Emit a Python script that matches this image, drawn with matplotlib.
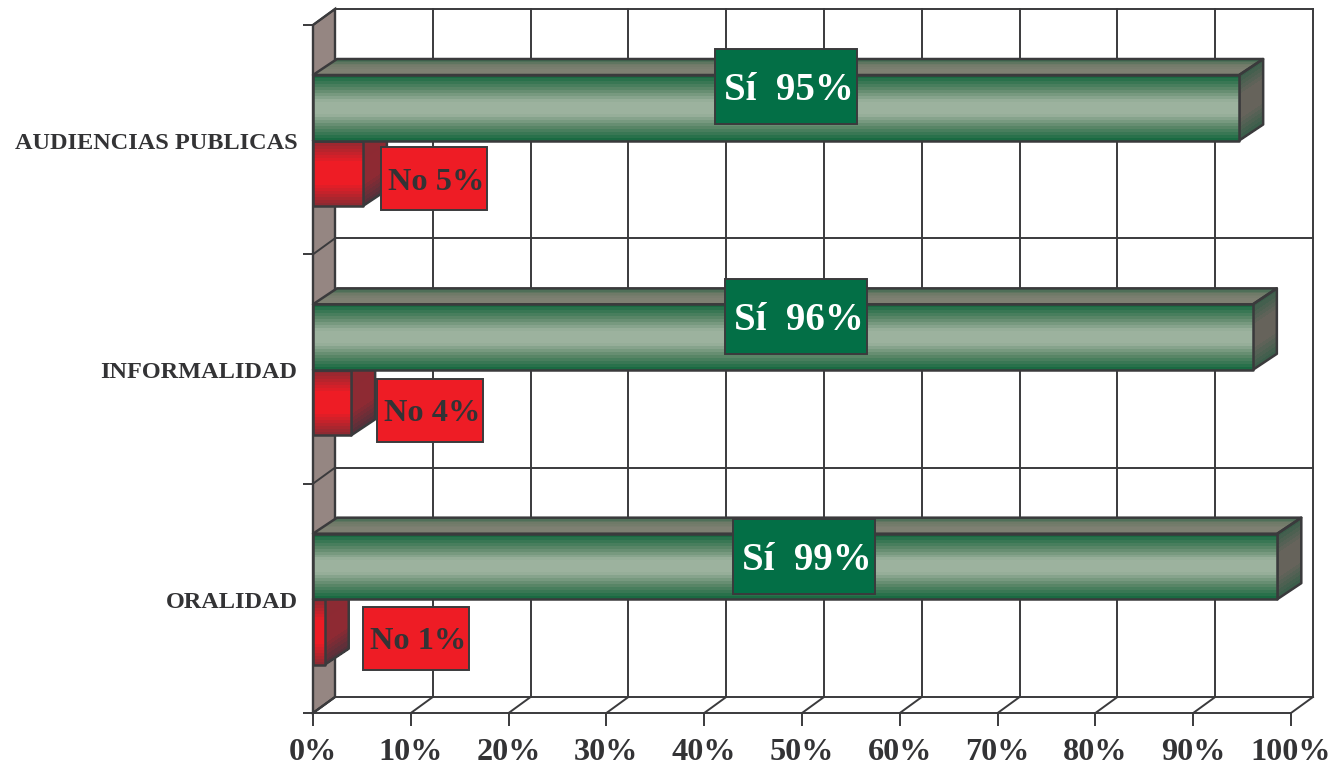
import numpy as np
import matplotlib
matplotlib.use("Agg")
import matplotlib.pyplot as plt
from matplotlib.colors import LinearSegmentedColormap
from matplotlib.patches import Polygon, Rectangle

categories = ["AUDIENCIAS PUBLICAS", "INFORMALIDAD", "ORALIDAD"]
si_values = [94.7, 96.1, 98.6]
no_values = [5.1, 3.9, 1.2]
si_labels = ["Sí  95%", "Sí  96%", "Sí  99%"]
no_labels = ["No 5%", "No 4%", "No 1%"]
x_ticks = list(range(0, 101, 10))
x_tick_labels = [f"{t}%" for t in x_ticks]

W, H = 1337, 770
L, R, T, B = 313, 1291, 25, 713
plt.rcParams["font.family"] = ["Liberation Serif", "DejaVu Serif"]
INK = "#3a3a3c"
TEXT = "#333335"

fig = plt.figure(figsize=(W / 100, H / 100), dpi=100, facecolor="white")
ax = fig.add_axes([L / W, 1 - B / H, (R - L) / W, (B - T) / H])
ax.set_xlim(0, 100)
ax.set_ylim(3, 0)
ax.patch.set_visible(False)

px_x = (R - L) / 100
px_y = (B - T) / 3
DX, DY = 22 / px_x, 16 / px_y
BAR_DX = 24 / px_x
BAR_H = 65.5 / px_y
GAP = 50 / px_y
X = lambda p: (p - L) / px_x
Y = lambda p: (p - T) / px_y

green_front = LinearSegmentedColormap.from_list("gf", ["#1a6a42", "#5b8668", "#9cb29e", "#9cb29e", "#5b8668", "#1a6a42"], 22)
green_top = LinearSegmentedColormap.from_list("gt", ["#3f6a50", "#6f7a68", "#7e8072", "#7e8072"], 10)
green_side = LinearSegmentedColormap.from_list("gs", ["#3c5e4b", "#66635b", "#66635b", "#3c5e4b"], 16)
red_front = LinearSegmentedColormap.from_list("rf", ["#8e2a32", "#ee1c25", "#ee1c25", "#8e2a32"], 22)
red_top = LinearSegmentedColormap.from_list("rt", ["#8e2a32", "#8e2a32"], 2)
red_side = LinearSegmentedColormap.from_list("rs", ["#8a2c33", "#8e2a33", "#8e2a33", "#57303a"], 16)


def face(p0, p1, p2, p3, cmap, z):
    """Banded quad: bands run from edge p0-p1 to edge p3-p2."""
    n = cmap.N
    t = np.linspace(0, 1, n + 1)[:, None]
    p0, p1, p2, p3 = map(np.array, (p0, p1, p2, p3))
    left = p0 + (p3 - p0) * t
    right = p1 + (p2 - p1) * t
    xs = np.column_stack([left[:, 0], right[:, 0]])
    ys = np.column_stack([left[:, 1], right[:, 1]])
    ax.pcolormesh(xs, ys, np.linspace(0, 1, n)[:, None], cmap=cmap, shading="flat",
                  zorder=z, clip_on=False, antialiased=False)
    ax.add_patch(Polygon([p0, p1, p2, p3], closed=True, fill=False, ec=INK, lw=1.8,
                         zorder=z + 0.1, clip_on=False, joinstyle="round"))


def bar(value, top, cm_front, cm_top, cm_side, z):
    bot = top + BAR_H
    face((BAR_DX, top - DY), (value + BAR_DX, top - DY), (value, top), (0, top), cm_top, z)
    face((value, top), (value + BAR_DX, top - DY), (value + BAR_DX, bot - DY), (value, bot), cm_side, z)
    face((0, top), (value, top), (value, bot), (0, bot), cm_front, z + 0.2)


# left wall
ax.add_patch(Polygon([(0, 3), (DX, 3 - DY), (DX, -DY), (0, 0)], closed=True, fc="#958682",
                     ec=INK, lw=1.7, zorder=1, clip_on=False))
# back wall grid, floor and wall diagonals
for t in x_ticks:
    ax.plot([t + DX, t + DX], [3 - DY, -DY], color=INK, lw=1.4, zorder=2, clip_on=False)
    ax.plot([t, t + DX], [3, 3 - DY], color=INK, lw=1.4, zorder=2, clip_on=False)
for k in range(4):
    ax.plot([DX, 100 + DX], [k - DY, k - DY], color=INK, lw=1.4, zorder=2, clip_on=False)
    ax.plot([0, DX], [k, k - DY], color=INK, lw=1.4, zorder=2, clip_on=False)

green_boxes = [715, 725, 733]
green_box_tops = [49, 279, 519]
red_boxes = [(381, 147), (377, 379), (363, 607)]

for i, (cat, si, no) in enumerate(zip(categories, si_values, no_values)):
    top = i + GAP
    bar(no, top + BAR_H, red_front, red_top, red_side, 3)
    bar(si, top, green_front, green_top, green_side, 4)
    gx, gy = green_boxes[i], green_box_tops[i]
    ax.add_patch(Rectangle((X(gx), Y(gy)), 142 / px_x, 75 / px_y, fc="#036f46", ec=INK, lw=1.4,
                           zorder=6, clip_on=False))
    ax.text(X(gx + 74), Y(gy + 42), si_labels[i], color="white", fontsize=28, fontweight="bold",
            ha="center", va="center", zorder=7, clip_on=False)
    rx, ry = red_boxes[i]
    ax.add_patch(Rectangle((X(rx), Y(ry)), 106 / px_x, 63 / px_y, fc="#ee1c25", ec=INK, lw=1.4,
                           zorder=6, clip_on=False))
    ax.text(X(rx + 55.5), Y(ry + 35), no_labels[i], color=TEXT, fontsize=23.3, fontweight="bold",
            ha="center", va="center", zorder=7, clip_on=False)

for s in ("top", "right", "left"):
    ax.spines[s].set_visible(False)
ax.spines["bottom"].set_color(INK)
ax.spines["bottom"].set_linewidth(1.4)
ax.spines["bottom"].set_zorder(2.5)

ax.set_xticks(x_ticks, x_tick_labels)
ax.tick_params(axis="x", length=9.4, width=1.4, color=INK, pad=8.5, labelsize=23.2, labelcolor=TEXT)
for lab in ax.get_xticklabels():
    lab.set_fontweight("bold")
ax.set_yticks(range(4), [""] * 4)
ax.tick_params(axis="y", which="major", length=7.2, width=1.4, color=INK)
ax.set_yticks([i + GAP + BAR_H + 0.5 / px_y for i in range(3)], categories, minor=True)
ax.tick_params(axis="y", which="minor", length=0, pad=11.2, labelsize=17.5, labelcolor=TEXT)
for lab in ax.get_yticklabels(minor=True):
    lab.set_fontweight("bold")

fig.savefig("out.png", dpi=100, facecolor="white")
